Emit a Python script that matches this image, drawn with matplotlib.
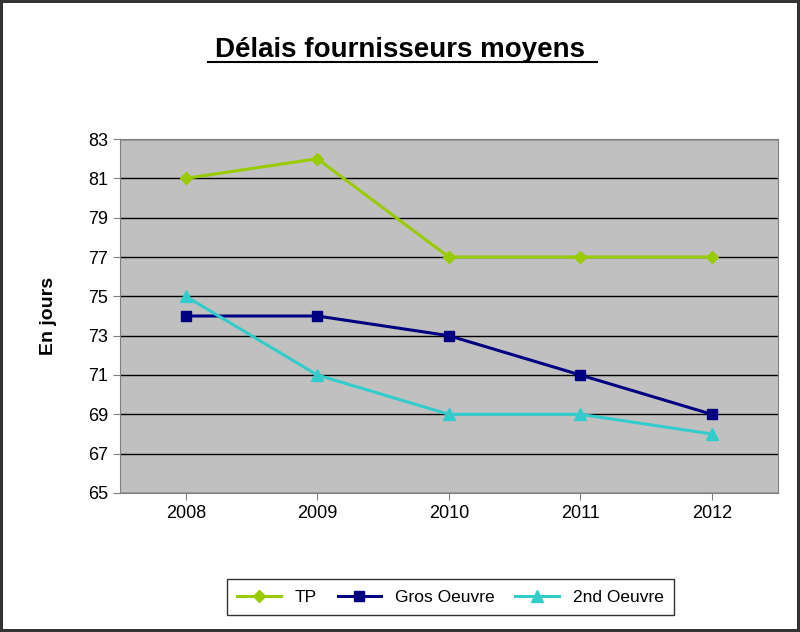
import matplotlib.pyplot as plt

plt.rcParams["font.family"] = "Liberation Sans"

years = ["2008", "2009", "2010", "2011", "2012"]
tp = [81, 82, 77, 77, 77]
gros_oeuvre = [74, 74, 73, 71, 69]
second_oeuvre = [75, 71, 69, 69, 68]

fig = plt.figure(figsize=(8, 6.32), dpi=100)
fig.patch.set_edgecolor("#333333")
fig.patch.set_linewidth(3)

ax = fig.add_axes([0.15, 0.22, 0.822, 0.56])
ax.set_facecolor("#C0C0C0")
x = range(len(years))
ax.plot(x, tp, color="#99CC00", marker="D", markersize=6, lw=2.2, label="TP")
ax.plot(x, gros_oeuvre, color="#000080", marker="s", markersize=7, lw=2.2, label="Gros Oeuvre")
ax.plot(x, second_oeuvre, color="#33CCCC", marker="^", markersize=8, lw=2.2, label="2nd Oeuvre")

ax.set_xlim(-0.5, len(years) - 0.5)
ax.set_ylim(65, 83)
ax.set_yticks(range(65, 84, 2))
ax.set_xticks(list(x))
ax.set_xticklabels(years)
ax.grid(axis="y", color="black", lw=1)
ax.set_axisbelow(True)
for s in ax.spines.values():
    s.set_color("#808080")
ax.tick_params(labelsize=13, length=5, color="#808080")
ax.set_ylabel("En jours", fontsize=14, fontweight="bold", labelpad=22)

fig.text(0.5, 0.91, "Délais fournisseurs moyens", ha="center", fontsize=20,
         fontweight="bold")
fig.add_artist(plt.Line2D([0.26, 0.746], [0.902, 0.902], color="black", lw=1.5))

leg = fig.legend(loc="center", bbox_to_anchor=(0.563, 0.055), ncol=3, fontsize=12.5,
                 frameon=True, fancybox=False, edgecolor="black", handlelength=2.5,
                 borderpad=0.6, columnspacing=1.2)
leg.get_frame().set_linewidth(1)

fig.savefig("out.png", dpi=100, edgecolor=fig.get_edgecolor())
